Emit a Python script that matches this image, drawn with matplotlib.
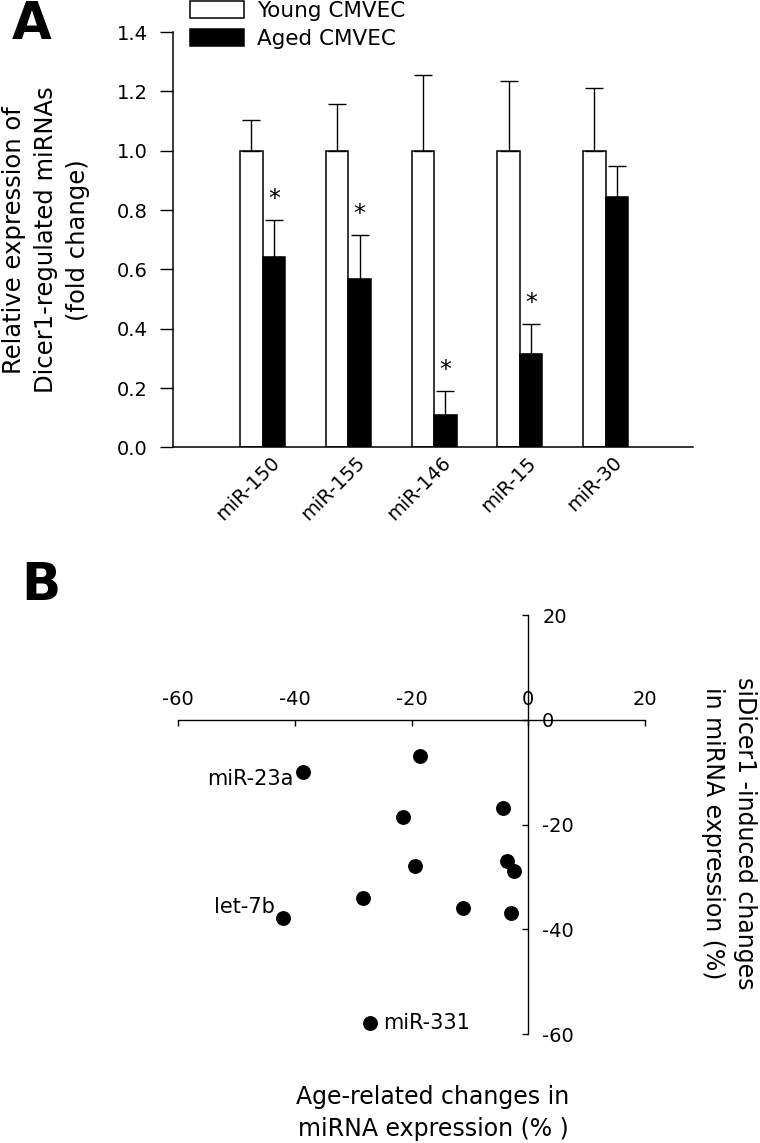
import numpy as np
import matplotlib
matplotlib.use("Agg")
import matplotlib.pyplot as plt

plt.rcParams['font.family'] = ['DejaVu Sans']
plt.rcParams['axes.unicode_minus'] = False

# Panel A data
mirnas = ["miR-150", "miR-155", "miR-146", "miR-15", "miR-30"]
young_mean = [1.0, 1.0, 1.0, 1.0, 1.0]
young_err = [0.104, 0.157, 0.255, 0.235, 0.21]
aged_mean = [0.642, 0.569, 0.110, 0.316, 0.844]
aged_err = [0.124, 0.148, 0.081, 0.101, 0.104]
significant = [True, True, True, True, False]

# Panel B data
age_change = [-38.7, -18.5, -4.4, -21.4, -19.4, -3.7, -2.4, -28.4, -11.2, -3.0, -42.1, -27.2]
dicer_change = [-10.0, -6.9, -16.9, -18.6, -27.9, -26.9, -28.8, -33.9, -35.9, -36.9, -37.9, -57.9]
point_names = ["miR-23a", "", "", "", "", "", "", "", "", "", "let-7b", "miR-331"]

fig = plt.figure(figsize=(7.6, 11.43), dpi=100)

# ---------------- Panel A ----------------
axA = fig.add_axes([0.2276, 0.6085, 0.6842, 0.3635])
x = np.arange(1, len(mirnas) + 1)
w = 0.263
axA.bar(x - w / 2, young_mean, w, color="white", edgecolor="black", linewidth=1.1,
        yerr=[np.zeros(5), young_err], capsize=6.8,
        error_kw=dict(elinewidth=1.0, capthick=1.0, ecolor="black"),
        label="Young CMVEC")
axA.bar(x + w / 2, aged_mean, w, color="black", edgecolor="black", linewidth=1.1,
        yerr=[np.zeros(5), aged_err], capsize=6.8,
        error_kw=dict(elinewidth=1.0, capthick=1.0, ecolor="black"),
        label="Aged CMVEC")

for xi, m, e, s in zip(x, aged_mean, aged_err, significant):
    if s:
        axA.annotate("*", xy=(xi + w / 2, m + e), xytext=(0, 10),
                     textcoords="offset points", ha="center", va="baseline",
                     fontsize=17)

axA.set_xlim(-0.047, 6.02)
axA.set_ylim(0, 1.4)
axA.set_yticks(np.arange(0, 1.41, 0.2))
axA.set_yticklabels([f"{v:.1f}" for v in np.arange(0, 1.41, 0.2)])
axA.set_xticks(x + 0.24)
axA.set_xticklabels(mirnas, rotation=45, ha="right", va="top")
axA.tick_params(axis="x", length=0, pad=4, labelsize=14)
axA.tick_params(axis="y", length=9.5, width=1.0, pad=8.6, labelsize=14)
for side in ["top", "right"]:
    axA.spines[side].set_visible(False)
for side in ["left", "bottom"]:
    axA.spines[side].set_linewidth(1.1)

axA.legend(loc="upper left", bbox_to_anchor=(190 / 760, 1 - 1 / 1143),
           bbox_transform=fig.transFigure, frameon=False, fontsize=15.5,
           handlelength=2.5, handleheight=0.85, handletextpad=0.6,
           labelspacing=0.38, borderpad=0, borderaxespad=0)

fig.text(46 / 760, 1 - 240 / 1143,
         "Relative expression of\nDicer1-regulated miRNAs\n(fold change)",
         rotation=90, ha="center", va="center", fontsize=17.5,
         linespacing=1.4, multialignment="center")

fig.text(12 / 760, 1.0, "A", ha="left", va="top", fontsize=37,
         fontweight="bold")

# ---------------- Panel B ----------------
axB = fig.add_axes([0.2346, 0.0951, 0.6141, 0.3668])
axB.plot(age_change, dicer_change, "o", color="black", markersize=9.7)
for xv, yv, name in zip(age_change, dicer_change, point_names):
    if name == "miR-331":
        axB.annotate(name, xy=(xv, yv), xytext=(10, 0), textcoords="offset points",
                     ha="left", va="center", fontsize=15)
    elif name == "let-7b":
        axB.annotate(name, xy=(xv, yv), xytext=(-6, 8), textcoords="offset points",
                     ha="right", va="center", fontsize=15)
    elif name:
        axB.annotate(name, xy=(xv, yv), xytext=(-6.5, -5), textcoords="offset points",
                     ha="right", va="center", fontsize=15)

axB.set_xlim(-60, 20)
axB.set_ylim(-60, 20)
axB.set_xticks([-60, -40, -20, 0, 20])
axB.set_yticks([-60, -40, -20, 0, 20])
axB.spines["left"].set_visible(False)
axB.spines["bottom"].set_visible(False)
axB.spines["top"].set_position(("data", 0))
axB.spines["right"].set_position(("data", 0))
axB.spines["top"].set_linewidth(1.0)
axB.spines["right"].set_linewidth(1.0)
axB.xaxis.tick_top()
axB.yaxis.tick_right()
axB.tick_params(axis="both", direction="in", length=4.3, width=1.0, labelsize=14)
axB.tick_params(axis="x", pad=8)
axB.tick_params(axis="y", pad=10)

fig.text(433 / 760, 1 - 1113 / 1143, "Age-related changes in\nmiRNA expression (% )",
         ha="center", va="center", fontsize=17, linespacing=1.4)
fig.text(729 / 760, 1 - 833 / 1143, "siDicer1 -induced changes\nin miRNA expression (%)",
         rotation=-90, ha="center", va="center", fontsize=17, linespacing=1.45)

fig.text(21 / 760, 1 - 561 / 1143, "B", ha="left", va="top", fontsize=37,
         fontweight="bold")

fig.savefig("out.png", dpi=100)
